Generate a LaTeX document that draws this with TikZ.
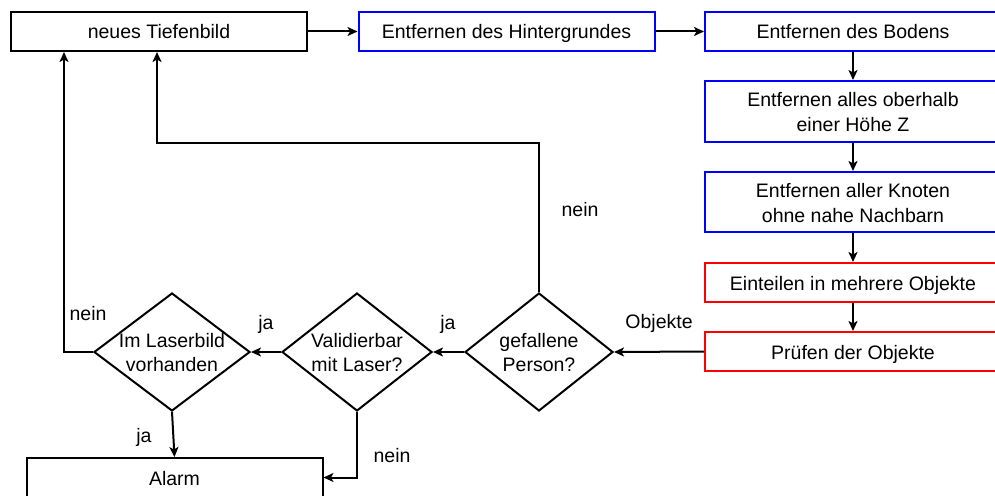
\documentclass[tikz,border=0pt]{standalone}
\usepackage{fontspec}
\setmainfont{Liberation Sans}
\usetikzlibrary{arrows.meta,shapes.geometric,calc}
\definecolor{bblue}{RGB}{0,0,255}
\definecolor{rred}{RGB}{255,0,0}
\tikzset{
  box/.style={draw=black,line width=2pt,rectangle,inner sep=0pt,minimum width=296pt,minimum height=39pt,align=center,font=\fontsize{19.5}{23.5}\selectfont},
  oneline/.style={text height=19pt,text depth=4pt},
  bluebox/.style={box,draw=bblue},
  redbox/.style={box,draw=rred},
  dia/.style={draw=black,line width=2pt,diamond,inner sep=0pt,minimum height=118pt},
  txt/.style={inner sep=0pt,align=center,font=\fontsize{19.5}{24}\selectfont},
  lbl/.style={inner sep=0pt,font=\fontsize{19.5}{23.5}\selectfont},
  arr/.style={draw=black,line width=2pt,-{Stealth[length=10pt,width=9pt,inset=2.5pt]}},
}
\begin{document}
\begin{tikzpicture}[x=1pt,y=-1pt]
\useasboundingbox (0,0) rectangle (995,495);
\clip (0,0) rectangle (995,495);
% boxes
\node[box,oneline] (t) at (159,31.5) {neues Tiefenbild};
\node[bluebox,oneline] (h) at (506.5,31.5) {Entfernen des Hintergrundes};
\node[bluebox,oneline] (b) at (853,31.5) {Entfernen des Bodens};
\node[bluebox,minimum height=61pt] (o) at (853,111.5) {};
\node[txt,font=\fontsize{19.5}{25}\selectfont] (ot) at (853,112.5) {Entfernen alles oberhalb\\einer Höhe Z};
\node[bluebox,minimum height=60pt] (k) at (853,202) {};
\node[txt,font=\fontsize{19.5}{25}\selectfont] (kt) at (853,203) {Entfernen aller Knoten\\ohne nahe Nachbarn};
\node[redbox,oneline] (e) at (853,282.5) {Einteilen in mehrere Objekte};
\node[redbox,oneline] (p) at (853,351.5) {Prüfen der Objekte};
\node[box,oneline] (al) at (174.5,477.5) {Alarm};
% diamonds
\node[dia,minimum width=156pt] (d1) at (172,352) {};
\node[txt] (d1t) at (172,353) {Im Laserbild\\vorhanden};
\node[dia,minimum width=150pt] (d2) at (357,352) {};
\node[txt] (d2t) at (357,353) {Validierbar\\mit Laser?};
\node[dia,minimum width=148pt] (d3) at (539,352) {};
\node[txt] (d3t) at (539,353) {gefallene\\Person?};
% helper coordinates
\coordinate (c1) at (157,143);
\coordinate (c2) at (64,352);
% connectors
\draw[arr] (t.east) -- (h.west);
\draw[arr] (h.east) -- (b.west);
\draw[arr] (b.south) -- (o.north);
\draw[arr] (o.south) -- (k.north);
\draw[arr] (k.south) -- (e.north);
\draw[arr] (e.south) -- (p.north);
\draw[arr] (p.west) -- (d3.east);
\draw[arr] (d3.west) -- (d2.east);
\draw[arr] (d2.west) -- (d1.east);
\draw[arr] (d3.north) |- (c1) -- (c1 |- t.south);
\draw[arr] (d1.west) -- (c2) -- (c2 |- t.south);
\draw[arr] (d1.south) -- (al.north);
\draw[arr] (d2.south) |- (al.east);
% labels
\node[lbl] (l1) at (659,323) {Objekte};
\node[lbl] (l2) at (580,210) {nein};
\node[lbl] (l3) at (448,324) {ja};
\node[lbl] (l4) at (266,324) {ja};
\node[lbl] (l5) at (88,314) {nein};
\node[lbl] (l6) at (144,437) {ja};
\node[lbl] (l7) at (392,456) {nein};
\end{tikzpicture}
\end{document}
